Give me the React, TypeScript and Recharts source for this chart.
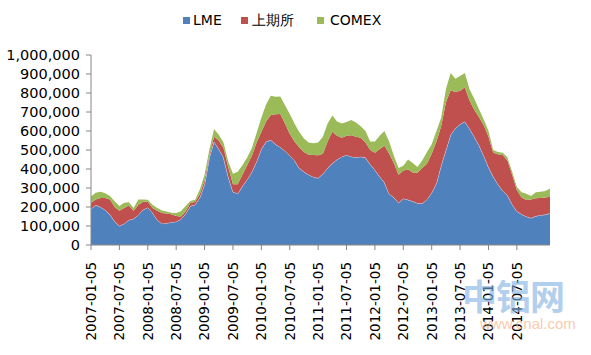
import { AreaChart, Area, XAxis, YAxis } from 'recharts'

// month index 0 = 2007-01, values in thousand tonnes
const lme = [
  190, 210, 200, 184, 160, 125, 100, 112, 132, 138, 158, 185, 198, 170, 132, 112, 115, 120, 123, 135,
  165, 205, 212, 250, 320, 460, 545, 505, 462, 360, 280, 270, 310, 345, 385, 440, 505, 545, 552, 530,
  515, 495, 470, 445, 405, 385, 370, 358, 352, 375, 405, 430, 450, 465, 474, 465, 462, 465, 460, 425,
  395, 360, 330, 270, 250, 222, 245, 238, 230, 220, 218, 240, 275, 325, 420, 500, 580, 615, 635, 650,
  612, 570, 525, 470, 410, 360, 320, 285, 262, 215, 177, 162, 150, 142, 152, 157, 160, 167,
]
const shfe = [
  32, 30, 48, 63, 80, 75, 80, 83, 76, 42, 52, 43, 30, 25, 48, 56, 51, 42, 29, 15,
  13, 17, 14, 18, 20, 10, 25, 45, 48, 50, 40, 50, 60, 75, 85, 100, 90, 105, 132, 158,
  175, 145, 115, 100, 110, 105, 105, 116, 120, 105, 140, 166, 125, 100, 101, 113, 108, 100, 80, 75,
  90, 145, 192, 212, 180, 148, 147, 160, 152, 160, 187, 188, 205, 220, 205, 250, 235, 190, 177, 180,
  148, 142, 147, 160, 160, 125, 158, 189, 183, 155, 113, 88, 87, 98, 94, 91, 90, 87,
]
const comex = [
  33, 35, 32, 25, 18, 30, 25, 27, 17, 15, 30, 12, 10, 17, 15, 14, 10, 8, 16, 28,
  27, 10, 12, 24, 30, 30, 40, 30, 30, 30, 55, 65, 50, 40, 40, 50, 75, 90, 101, 92,
  92, 95, 105, 95, 80, 70, 65, 61, 68, 90, 95, 86, 75, 75, 73, 80, 75, 60, 60, 45,
  60, 70, 78, 63, 40, 35, 25, 52, 50, 30, 40, 62, 50, 55, 45, 70, 90, 70, 78, 75,
  60, 58, 43, 30, 30, 15, 12, 12, 17, 15, 15, 28, 33, 18, 32, 32, 34, 44,
]

const tickMonths = [0, 6, 12, 18, 24, 30, 36, 42, 48, 54, 60, 66, 72, 78, 84, 90]
const tickLabels = [
  '2007-01-05', '2007-07-05', '2008-01-05', '2008-07-05', '2009-01-05', '2009-07-05',
  '2010-01-05', '2010-07-05', '2011-01-05', '2011-07-05', '2012-01-05', '2012-07-05',
  '2013-01-05', '2013-07-05', '2014-01-05', '2014-07-05',
]
const yTicks = [0, 100000, 200000, 300000, 400000, 500000, 600000, 700000, 800000, 900000, 1000000]

const seriesNames = ['LME', '上期所', 'COMEX']
const colors = ['#4F81BD', '#C0504D', '#9BBB59']

const data = lme.map((v, i) => ({
  m: i,
  lme: v * 1000,
  shfe: shfe[i] * 1000,
  comex: comex[i] * 1000,
}))

const font = '"DejaVu Sans", sans-serif'

function DateTick(props: any) {
  const { x, y, payload } = props
  const idx = tickMonths.indexOf(payload.value)
  return (
    <g transform={`translate(${x},${y})`}>
      <text
        transform="rotate(-90)"
        x={-10}
        dy="0.36em"
        textAnchor="end"
        fill="#000"
        fontSize={13.5}
        fontFamily={font}
      >
        {tickLabels[idx]}
      </text>
    </g>
  )
}

function LegendBox() {
  const items = [
    { left: 183, textLeft: 193 },
    { left: 241, textLeft: 252 },
    { left: 317, textLeft: 330 },
  ]
  return (
    <div style={{ position: 'absolute', left: 0, top: 0, width: 591, height: 35 }}>
      {items.map((it, i) => (
        <div key={i}>
          <div
            style={{
              position: 'absolute',
              left: it.left,
              top: 17,
              width: 7,
              height: 7,
              background: colors[i],
            }}
          />
          <div
            style={{
              position: 'absolute',
              left: it.textLeft,
              top: 11,
              fontFamily: font,
              fontSize: 14,
              lineHeight: '18px',
              color: '#000',
              whiteSpace: 'nowrap',
            }}
          >
            {seriesNames[i]}
          </div>
        </div>
      ))}
    </div>
  )
}

export default function App() {
  return (
    <div style={{ position: 'absolute', left: 0, top: 0, width: 591, height: 355, background: '#fff' }}>
      <AreaChart width={591} height={355} data={data} margin={{ top: 55, right: 41, left: 0, bottom: 0 }}>
        <XAxis
          dataKey="m"
          type="number"
          domain={[0, 97]}
          ticks={tickMonths}
          interval={0}
          height={110}
          tick={<DateTick />}
          tickSize={5}
          axisLine={{ stroke: '#868686' }}
          tickLine={{ stroke: '#868686' }}
        />
        <YAxis
          domain={[0, 1000000]}
          ticks={yTicks}
          interval={0}
          width={91}
          tickSize={5}
          tickMargin={6}
          tickFormatter={(v: number) => v.toLocaleString('en-US')}
          tick={{ fill: '#000', fontSize: 14.5, fontFamily: font }}
          axisLine={{ stroke: '#868686' }}
          tickLine={{ stroke: '#868686' }}
        />
        <Area
          type="linear"
          dataKey="lme"
          stackId="1"
          fill={colors[0]}
          fillOpacity={1}
          stroke="#e4dff0"
          strokeWidth={1}
          isAnimationActive={false}
        />
        <Area
          type="linear"
          dataKey="shfe"
          stackId="1"
          fill={colors[1]}
          fillOpacity={1}
          stroke="none"
          isAnimationActive={false}
        />
        <Area
          type="linear"
          dataKey="comex"
          stackId="1"
          fill={colors[2]}
          fillOpacity={1}
          stroke="none"
          isAnimationActive={false}
        />
      </AreaChart>
      <LegendBox />
      <div
        style={{
          position: 'absolute',
          left: 462,
          top: 274,
          fontFamily: '"Noto Sans CJK SC", sans-serif',
          fontWeight: 700,
          fontSize: 35,
          lineHeight: '42px',
          color: '#7fb0e3',
          opacity: 0.6,
          letterSpacing: -1,
          whiteSpace: 'nowrap',
        }}
      >
        中铝网
      </div>
      <div
        style={{
          position: 'absolute',
          left: 480,
          top: 315,
          fontFamily: '"Liberation Sans", sans-serif',
          fontSize: 15,
          lineHeight: '18px',
          color: '#f6b78c',
          opacity: 0.7,
          whiteSpace: 'nowrap',
        }}
      >
        www.cnal.com
      </div>
    </div>
  )
}
